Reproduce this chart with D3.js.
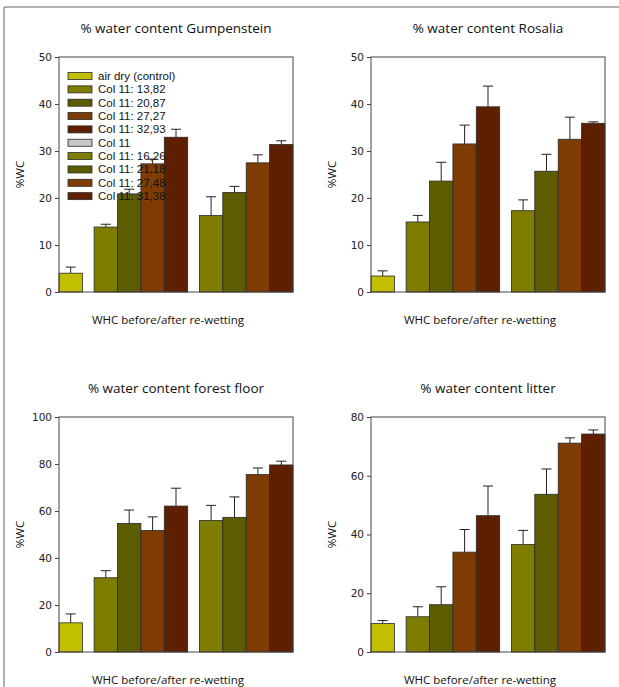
<!DOCTYPE html>
<html>
<head>
<meta charset="utf-8">
<script src="https://cdn.jsdelivr.net/npm/d3@7"></script>
<style>
  body { margin: 0; background: #fff; }
  svg text { font-family: "Open Sans", sans-serif; }
</style>
</head>
<body>
<div id="chart"></div>
<script>
var width = 619,
    height = 687

// series names as in the legend (the grey "Col 11" entry is only a spacer)
var seriesNames = ["air dry (control)",
  "Col 11: 13,82", "Col 11: 20,87", "Col 11: 27,27", "Col 11: 32,93",
  "Col 11",
  "Col 11: 16,26", "Col 11: 21,18", "Col 11: 27,48", "Col 11: 31,38"]
var seriesColors = ["#c2bf00", "#7f7d00", "#5e5c00", "#7e3c02", "#5e1e00",
  "#c8c8c8", "#7f7d00", "#5e5c00", "#7e3c02", "#5e1e00"]
// bar group of each series (spacer = -1)
var seriesGroup = [0, 1, 1, 1, 1, -1, 2, 2, 2, 2]

var panelTitles = ["% water content Gumpenstein", "% water content Rosalia",
  "% water content forest floor", "% water content litter"]
var yMax = [50, 50, 100, 80]
var yTicks = [[0, 10, 20, 30, 40, 50], [0, 10, 20, 30, 40, 50],
  [0, 20, 40, 60, 80, 100], [0, 20, 40, 60, 80]]

// means (control, 4 before, 4 after)
var gumpMean = [4.0, 13.82, 20.87, 27.27, 32.93, 16.26, 21.18, 27.48, 31.38]
var gumpErr = [1.3, 0.6, 1.0, 1.0, 1.7, 4.0, 1.3, 1.7, 0.8]
var rosMean = [3.4, 14.9, 23.6, 31.5, 39.4, 17.3, 25.7, 32.5, 35.9]
var rosErr = [1.1, 1.4, 4.0, 4.0, 4.4, 2.3, 3.6, 4.7, 0.3]
var forestMean = [12.4, 31.6, 54.7, 51.7, 62.1, 56.0, 57.3, 75.5, 79.6]
var forestErr = [3.8, 3.0, 5.7, 5.8, 7.6, 6.4, 8.7, 2.8, 1.6]
var litterMean = [9.7, 12.0, 16.1, 34.0, 46.4, 36.6, 53.7, 71.1, 74.2]
var litterErr = [1.0, 3.4, 6.1, 7.7, 10.1, 4.8, 8.6, 1.8, 1.4]

var means = [gumpMean, rosMean, forestMean, litterMean]
var errs = [gumpErr, rosErr, forestErr, litterErr]

var xTitle = "WHC before/after re-wetting"
var yTitle = "%WC"

var svg = d3.select("#chart")
  .append("svg")
    .attr("width", width)
    .attr("height", height)

// outer frame (top + left only)
svg.append("path")
  .attr("d", "M4,687 V7 H619")
  .attr("fill", "none")
  .attr("stroke", "#666")
  .attr("stroke-width", 1)

var panelPos = [[59, 57], [371, 57], [59, 417], [371, 417]]
var pw = 234, ph = 235

// bar series (no spacer) with their slot on a 0..10 axis
var barSeries = []
var slot = 0, lastGroup = 0
seriesNames.forEach(function(name, i) {
  if (seriesGroup[i] < 0) return
  if (seriesGroup[i] != lastGroup) { slot += 0.5; lastGroup = seriesGroup[i] }
  barSeries.push({ name: name, color: seriesColors[i], slot: slot })
  slot += 1
})

var x = d3.scaleLinear().domain([0, 10]).range([0, pw])

panelTitles.forEach(function(title, p) {
  var g = svg.append("g")
    .attr("transform", "translate(" + panelPos[p][0] + "," + panelPos[p][1] + ")")

  var y = d3.scaleLinear().domain([0, yMax[p]]).range([ph, 0])

  var data = barSeries.map(function(s, i) {
    return { color: s.color, slot: s.slot, v: means[p][i], e: errs[p][i] }
  })

  // error bars (upper only)
  var eb = g.selectAll(".err").data(data).enter().append("g")
  eb.append("line")
    .attr("x1", function(d) { return x(d.slot + 0.5) })
    .attr("x2", function(d) { return x(d.slot + 0.5) })
    .attr("y1", function(d) { return y(d.v) })
    .attr("y2", function(d) { return y(d.v + d.e) })
    .attr("stroke", "#222").attr("stroke-width", 1)
  eb.append("line")
    .attr("x1", function(d) { return x(d.slot + 0.5) - 5 })
    .attr("x2", function(d) { return x(d.slot + 0.5) + 5 })
    .attr("y1", function(d) { return y(d.v + d.e) })
    .attr("y2", function(d) { return y(d.v + d.e) })
    .attr("stroke", "#222").attr("stroke-width", 1)

  g.selectAll(".bar").data(data).enter().append("rect")
    .attr("x", function(d) { return x(d.slot) })
    .attr("width", x(1) - x(0))
    .attr("y", function(d) { return y(d.v) })
    .attr("height", function(d) { return y(0) - y(d.v) })
    .attr("fill", function(d) { return d.color })
    .attr("stroke", "#2a2a2a")
    .attr("stroke-width", 0.8)

  // frame box
  g.append("rect")
    .attr("width", pw).attr("height", ph)
    .attr("fill", "none")
    .attr("stroke", "#444")
    .attr("stroke-width", 1)

  var yAxis = g.append("g")
    .call(d3.axisLeft(y).tickValues(yTicks[p]).tickSize(4).tickPadding(3))
  yAxis.select(".domain").remove()
  yAxis.selectAll("line").attr("stroke", "#444")
  yAxis.selectAll("text")
    .style("font-family", "'DejaVu Sans', sans-serif")
    .style("font-size", "10.5px")
    .attr("fill", "#222")

  g.append("text")
    .attr("x", pw / 2)
    .attr("y", -24)
    .attr("text-anchor", "middle")
    .style("font-size", "13.5px")
    .attr("fill", "#111")
    .text(title)

  g.append("text")
    .attr("x", pw / 2 - 8)
    .attr("y", ph + 32)
    .attr("text-anchor", "middle")
    .style("font-size", "11.5px")
    .attr("fill", "#111")
    .text(xTitle)

  g.append("text")
    .attr("transform", "translate(-35," + (ph / 2) + ") rotate(-90)")
    .attr("text-anchor", "middle")
    .style("font-size", "11.5px")
    .attr("fill", "#111")
    .text(yTitle)
})

// legend in the first panel
var leg = svg.append("g").attr("transform", "translate(68,72.5)")
var li = leg.selectAll(".li").data(seriesNames).enter().append("g")
  .attr("transform", function(d, i) { return "translate(0," + (i * 13.35) + ")" })
li.append("rect")
  .attr("width", 24).attr("height", 7)
  .attr("fill", function(d, i) { return seriesColors[i] })
  .attr("stroke", "#2a2a2a").attr("stroke-width", 0.8)
li.append("text")
  .attr("x", 30).attr("y", 7.5)
  .style("font-family", "'Liberation Sans', Arial, sans-serif")
  .style("font-size", "11.5px")
  .attr("fill", "#111")
  .text(function(d) { return d })
</script>
</body>
</html>
